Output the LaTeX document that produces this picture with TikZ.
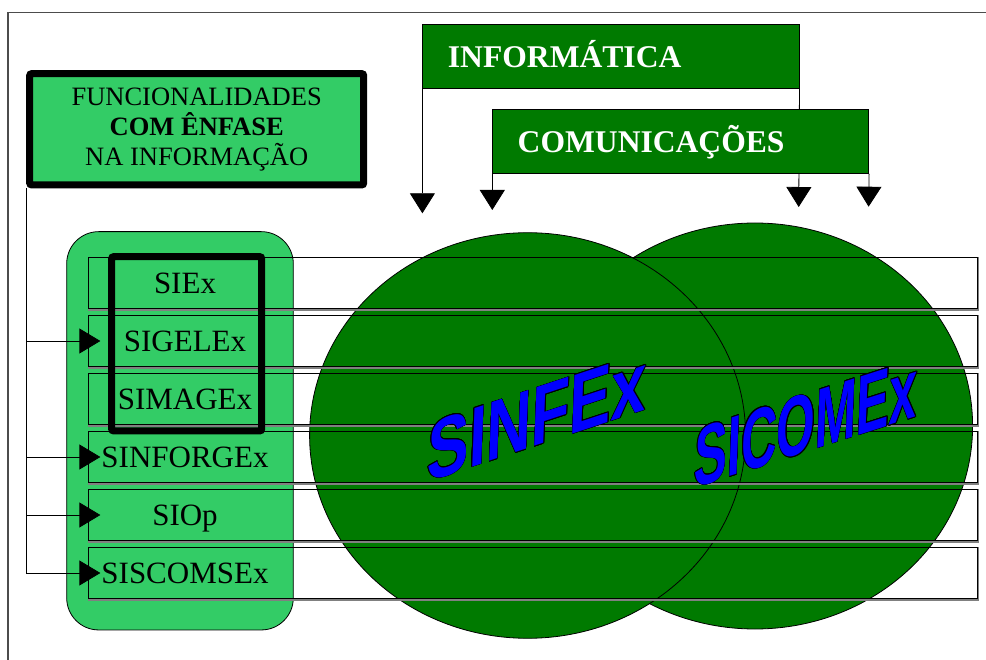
\documentclass[tikz,border=0pt]{standalone}
\usepackage{fontspec}
\setmainfont{Liberation Serif}
\newfontfamily\artfont{Liberation Sans}
\usepackage{contour}
\contourlength{0.6pt}
\usetikzlibrary{arrows.meta}
\definecolor{darkgreen}{RGB}{0,122,0}
\definecolor{lightgreen}{RGB}{51,204,102}
\tikzset{>={Triangle[length=20pt,width=25pt]}}

\begin{document}
\begin{tikzpicture}[x=1pt,y=-1pt,
    frame/.style={draw=black!70,line width=1.2pt},
    boldbox/.style={draw=black,line width=7pt,fill=lightgreen,rounded corners=2pt},
    panel/.style={draw=black,line width=0.8pt,fill=lightgreen,rounded corners=32pt},
    rowbox/.style={draw=black,line width=0.7pt,minimum width=889pt,minimum height=51.5pt,inner sep=0pt},
    rowshade/.style={draw=black!50,line width=1.4pt},
    rowlabel/.style={font=\fontsize{31}{36}\selectfont,text height=20.5pt,text depth=0pt,inner sep=0pt},
    topbox/.style={draw=black,line width=0.8pt,fill=darkgreen,text=white,anchor=north west,
      font=\fontsize{31.6}{36}\selectfont\bfseries,text width=326pt,inner xsep=25pt,inner ysep=0pt,
      minimum height=64.3pt,align=left,text height=22pt,text depth=0pt},
    link/.style={draw=black,line width=0.8pt},
    sidetip/.style={-{Triangle[length=21pt,width=25pt]}},
    bubble/.style={draw=black,line width=0.8pt,fill=darkgreen},
    wordart/.style={text=blue,font=\artfont\bfseries\fontsize{84}{84}\selectfont,inner sep=0pt}]
  \useasboundingbox (0,0) rectangle (986,660);
  % outer frame, cut at the right and bottom
  \coordinate (fa) at (8,12.3);
  \coordinate (fb) at (986,12.3);
  \coordinate (fc) at (8,660);
  \draw[frame] (fb) -- (fa) -- (fc);

  \node[boldbox,minimum width=334pt,minimum height=111.3pt,align=center,
    font=\fontsize{26.5}{30}\selectfont,inner sep=0pt] (func) at (196.7,129.3)
    {FUNCIONALIDADES\\\textbf{COM ÊNFASE}\\NA INFORMAÇÃO};

  \node[panel,minimum width=226.6pt,minimum height=398.3pt] (painel) at (180,430.8) {};

  % the two systems
  \path[bubble] (755,426) ellipse [x radius=217.6pt, y radius=203pt];
  \path[bubble] (527.6,435.5) ellipse [x radius=218pt, y radius=202.8pt];

  % rows
  \foreach \i in {1,...,6} {
    \node[rowbox] (r\i) at (532.5,225+58*\i) {};
    \draw[rowshade] ([xshift=1pt]r\i.north east) -- ([xshift=1pt,yshift=-1pt]r\i.south east)
      -- ([yshift=-1pt]r\i.south west);
  }

  \node[boldbox,fill=none,minimum width=150pt,minimum height=174.3pt] (enfase) at (186.7,343.8) {};

  \foreach \i/\txt in {1/SIEx,2/SIGELEx,3/SIMAGEx,4/SINFORGEx,5/SIOp,6/SISCOMSEx}
    \node[rowlabel] (l\i) at (185,225+58*\i) {\txt};

  \node[wordart,yslant=0.33,xslant=0.04,xscale=0.745] (sinfex) at (537,417) {\contour{black}{SINFEx}};
  \node[wordart,yslant=0.32,xslant=0.04,xscale=0.59] (sicomex) at (806,423.4) {\contour{black}{SICOMEx}};

  % links from the functionalities box
  \draw[link,sidetip] (func.south west) |- ([xshift=12.7pt]r6.west);
  \foreach \i in {2,4,5}
    \draw[link,sidetip] (func.south west |- r\i.west) -- ([xshift=12.7pt]r\i.west);

  % top boxes
  \node[topbox,minimum width=376.3pt] (info) at (422.4,24) {INFORMÁTICA};
  \coordinate (tipa) at (422.4,213.3);
  \coordinate (tipb) at (798.7,207);
  \draw[link,->] (info.south west) -- (tipa);
  \draw[link,->] (info.south east) -- (tipb);
  \node[topbox] (comm) at (492.3,108.7) {COMUNICAÇÕES};
  \coordinate (tipc) at (492.3,210);
  \coordinate (tipd) at (868.6,206.7);
  \draw[link,->] (comm.south west) -- (tipc);
  \draw[link,->] (comm.south east) -- (tipd);
\end{tikzpicture}
\end{document}
